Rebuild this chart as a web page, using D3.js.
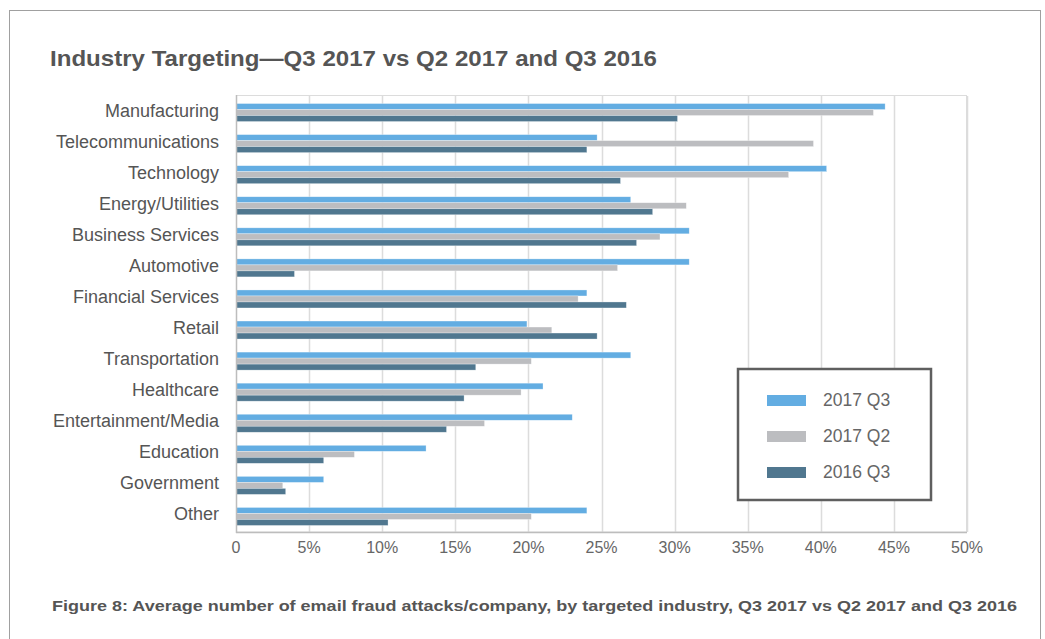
<!DOCTYPE html>
<html>
<head>
<meta charset="utf-8">
<script src="https://cdn.jsdelivr.net/npm/d3@7"></script>
<style>
  body { margin: 0; background: #fff; }
  svg { display: block; font-family: "Liberation Sans", Arial, sans-serif; }
</style>
</head>
<body>
<svg width="1045" height="639"></svg>
<script>
// data
var industries = ['Manufacturing','Telecommunications','Technology','Energy/Utilities','Business Services','Automotive','Financial Services','Retail','Transportation','Healthcare','Entertainment/Media','Education','Government','Other'];
var q3_2017 = [44.4, 24.7, 40.4, 27.0, 31.0, 31.0, 24.0, 19.9, 27.0, 21.0, 23.0, 13.0, 6.0, 24.0];
var q2_2017 = [43.6, 39.5, 37.8, 30.8, 29.0, 26.1, 23.4, 21.6, 20.2, 19.5, 17.0, 8.1, 3.2, 20.2];
var q3_2016 = [30.2, 24.0, 26.3, 28.5, 27.4, 4.0, 26.7, 24.7, 16.4, 15.6, 14.4, 6.0, 3.4, 10.4];
var seriesNames = ['2017 Q3','2017 Q2','2016 Q3'];
var colors = ['#63ade2','#bcbdc0','#50778f'];
var xTicks = [0,5,10,15,20,25,30,35,40,45,50];

var series = [q3_2017, q2_2017, q3_2016];

var svg = d3.select('svg');

// outer frame
svg.append('rect')
    .attr('x', 9.5).attr('y', 10.5)
    .attr('width', 1031).attr('height', 660)
    .attr('fill', 'none')
    .attr('stroke', '#a0a0a0')
    .attr('stroke-width', 1);

// title
svg.append('text')
    .attr('x', 50).attr('y', 66)
    .attr('fill', '#555')
    .style('font-size', '22px')
    .style('font-weight', 'bold')
    .attr('textLength', 607)
    .attr('lengthAdjust', 'spacingAndGlyphs')
    .text('Industry Targeting\u2014Q3 2017 vs Q2 2017 and Q3 2016');

var x = d3.scaleLinear().domain([0, 50]).range([236, 967]);
var y = d3.scaleBand().domain(industries).range([97, 532]);
var barH = 6;
var sub = d3.scaleBand().domain(d3.range(3)).range([0, barH * 3]);

// plot frame
svg.append('rect')
    .attr('x', 236.5).attr('y', 95.5)
    .attr('width', 730).attr('height', 436.5)
    .attr('fill', 'none')
    .attr('stroke', '#dcdcdc');

// gridlines
svg.append('g')
    .selectAll('line')
    .data(xTicks.slice(1))
    .enter()
    .append('line')
    .attr('x1', function(d){ return Math.round(x(d)) + 0.5 })
    .attr('x2', function(d){ return Math.round(x(d)) + 0.5 })
    .attr('y1', 96).attr('y2', 532)
    .attr('stroke', '#dcdcdc')
    .attr('stroke-width', 1.5);

// bars
series.forEach(function(vals, s){
    svg.append('g')
        .selectAll('rect')
        .data(vals)
        .enter()
        .append('rect')
        .attr('x', x(0))
        .attr('y', function(d, i){ return y(industries[i]) + y.bandwidth() / 2 - barH * 1.5 + sub(s) })
        .attr('width', function(d){ return x(d) - x(0) })
        .attr('height', barH)
        .attr('fill', colors[s])
        .attr('stroke', '#ffffff')
        .attr('stroke-opacity', 0.5)
        .attr('stroke-width', 0.6);
});

// axes lines
svg.append('line')
    .attr('x1', 236).attr('x2', 967)
    .attr('y1', 532.5).attr('y2', 532.5)
    .attr('stroke', '#bdbdbd').attr('stroke-width', 1.5);
svg.append('line')
    .attr('x1', 236.5).attr('x2', 236.5)
    .attr('y1', 95).attr('y2', 533)
    .attr('stroke', '#bdbdbd').attr('stroke-width', 1.5);

// x tick labels
svg.append('g')
    .selectAll('text')
    .data(xTicks)
    .enter()
    .append('text')
    .attr('x', function(d){ return x(d) })
    .attr('y', 553)
    .attr('text-anchor', 'middle')
    .attr('fill', '#666')
    .style('font-size', '16px')
    .text(function(d){ return d === 0 ? '0' : d + '%' });

// category labels
svg.append('g')
    .selectAll('text')
    .data(industries)
    .enter()
    .append('text')
    .attr('x', 219)
    .attr('y', function(d){ return y(d) + y.bandwidth() / 2 + 4 })
    .attr('text-anchor', 'end')
    .attr('fill', '#555')
    .style('font-size', '18px')
    .text(function(d){ return d });

// legend
var legend = svg.append('g').attr('transform', 'translate(737,368)');
legend.append('rect')
    .attr('x', 1).attr('y', 1)
    .attr('width', 193).attr('height', 131)
    .attr('fill', '#fff')
    .attr('stroke', '#5f5f5f')
    .attr('stroke-width', 2.5);
seriesNames.forEach(function(name, i){
    legend.append('rect')
        .attr('x', 30).attr('y', 27 + i * 36)
        .attr('width', 39).attr('height', 11)
        .attr('fill', colors[i]);
    legend.append('text')
        .attr('x', 86).attr('y', 38 + i * 36)
        .attr('fill', '#666')
        .style('font-size', '17.5px')
        .text(name);
});

// caption
svg.append('text')
    .attr('x', 52).attr('y', 611)
    .attr('fill', '#555')
    .style('font-size', '15px')
    .style('font-weight', 'bold')
    .attr('textLength', 965)
    .attr('lengthAdjust', 'spacingAndGlyphs')
    .text('Figure 8: Average number of email fraud attacks/company, by targeted industry, Q3 2017 vs Q2 2017 and Q3 2016');
</script>
</body>
</html>
